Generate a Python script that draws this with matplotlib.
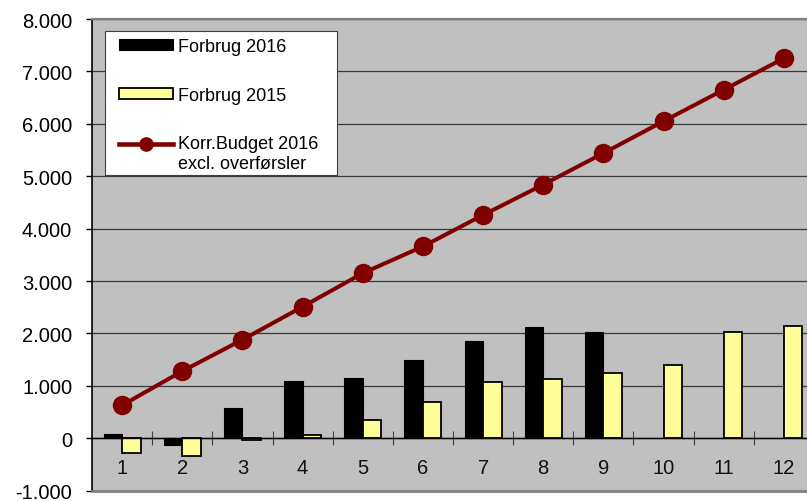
import matplotlib
matplotlib.use('Agg')
import matplotlib.pyplot as plt
import matplotlib.transforms as mtransforms
from matplotlib.legend_handler import HandlerLine2D
from matplotlib.patches import Rectangle
from matplotlib.lines import Line2D
import numpy as np

plt.rcParams['font.family'] = ['Liberation Sans', 'DejaVu Sans']

months = [1, 2, 3, 4, 5, 6, 7, 8, 9, 10, 11, 12]
month_labels = ['1', '2', '3', '4', '5', '6', '7', '8', '9', '10', '11', '12']
forbrug_2016 = [90, -120, 580, 1090, 1150, 1490, 1850, 2120, 2030]
forbrug_2015 = [-280, -330, -30, 60, 350, 690, 1070, 1130, 1250, 1400, 2030, 2150]
budget_2016 = [630, 1280, 1880, 2510, 3150, 3660, 4260, 4840, 5440, 6050, 6650, 7250]
ytick_values = [-1000, 0, 1000, 2000, 3000, 4000, 5000, 6000, 7000, 8000]
ytick_labels = ['-1.000', '0', '1.000', '2.000', '3.000', '4.000', '5.000', '6.000', '7.000', '8.000']
series_names = ['Forbrug 2016', 'Forbrug 2015', 'Korr.Budget 2016\nexcl. overførsler']

W, H = 807, 502
fig = plt.figure(figsize=(W / 100, H / 100), dpi=100)
ax = fig.add_axes([92 / W, 10.3 / H, 722 / W, 471.7 / H])
ax.set_facecolor('#c0c0c0')
ax.set_xlim(0.5, 12.5)
ax.set_ylim(-1000, 8000)

x = np.array(months, dtype=float)
bw = 0.307
b16 = ax.bar(x[:len(forbrug_2016)] - bw / 2, forbrug_2016, width=bw, color='black',
             edgecolor='black', linewidth=0.8, zorder=2)
b15 = ax.bar(x + bw / 2, forbrug_2015, width=bw, color='#ffff99',
             edgecolor='black', linewidth=1.3, zorder=2)
ax.plot(x, budget_2016, color='#800000', lw=2.9, marker='o', ms=13, zorder=4)

# grid & axes
ax.set_yticks(ytick_values)
ax.set_yticklabels(ytick_labels)
ax.yaxis.grid(True, color='#383838', lw=0.9, zorder=0)
ax.set_axisbelow(True)
ax.set_xticks(x)
ax.set_xticklabels(month_labels)
ax.set_xticks(np.arange(1.5, 13.0, 1.0), minor=True)
ax.tick_params(axis='x', which='major', length=0, pad=14, labelsize=14.5, colors='#111111')
ax.tick_params(axis='x', which='minor', direction='inout', length=10, width=0.8, color='#404040')
ax.tick_params(axis='y', direction='out', length=4.3, width=1, pad=10, labelsize=14.5,
               colors='#111111')
ax.tick_params(axis='y', colors='black')
ax.spines['bottom'].set_position(('data', 0))
ax.spines['bottom'].set_color('black')
ax.spines['bottom'].set_linewidth(1)
ax.spines['left'].set_color('black')
ax.spines['left'].set_linewidth(1.2)
ax.spines['top'].set_color('#808080')
ax.spines['top'].set_linewidth(1.6)
ax.spines['right'].set_visible(False)
ax.axhline(-1000, color='#808080', lw=2, clip_on=False, zorder=5)

# legend frame
lx0, ly0, lx1, ly1 = 105.3, 32, 337.3, 176
ax.add_patch(Rectangle((lx0 / W, 1 - ly1 / H), (lx1 - lx0) / W, (ly1 - ly0) / H,
                       transform=fig.transFigure, facecolor='white', edgecolor='#404040',
                       lw=0.8, zorder=5, clip_on=False))


class UpLine(HandlerLine2D):
    def create_artists(self, legend, orig_handle, xdescent, ydescent, width, height,
                       fontsize, trans):
        arts = super().create_artists(legend, orig_handle, xdescent, ydescent, width,
                                      height, fontsize, trans)
        for a in arts:
            a.set_transform(mtransforms.Affine2D().translate(0, 7) + trans)
        return arts


line_proxy = Line2D([], [], color='#800000', lw=3.3, marker='o', ms=9.5)
leg = ax.legend([b16, b15, line_proxy], series_names, loc='upper left',
                bbox_to_anchor=(119 / W, 1 - 39 / H), bbox_transform=fig.transFigure,
                frameon=False, borderpad=0, borderaxespad=0, fontsize=13,
                handlelength=3.0, handleheight=0.6, handletextpad=0.24,
                labelspacing=1.75, numpoints=1, handler_map={line_proxy: UpLine()})
leg.set_zorder(6)

fig.savefig('out.png', dpi=100)
